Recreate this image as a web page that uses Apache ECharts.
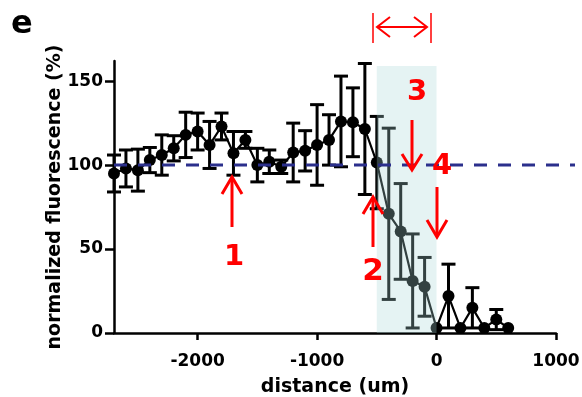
<!DOCTYPE html>
<html><head><meta charset="utf-8">
<script src="https://cdn.jsdelivr.net/npm/echarts@6/dist/echarts.min.js"></script>
<style>html,body{margin:0;padding:0;background:#fff}#c{width:582px;height:397px}</style>
</head><body><div id="c"></div>
<script>
// ---- data ----
const distances = [-2700,-2600,-2500,-2400,-2300,-2200,-2100,-2000,-1900,-1800,-1700,-1600,-1500,-1400,-1300,-1200,-1100,-1000,-900,-800,-700,-600,-500,-400,-300,-200,-100,0,100,200,300,400,500,600];
const means     = [95,98,97,103,106,110,118,120,112,123,107,115,100,102,99,107.5,108.5,112,115,126,125.5,121.5,101.5,71,60.5,31,27.5,3,22,3,15,3,8,3];
const errors    = [11,11,12.5,7.5,12,7.5,13.5,11,14,8,13,5,10,7,4,17.5,12,24,15,27,20.5,39,27.5,51,28.5,28,17.5,0,19,0,12,0,6,0];
const xTicks = [-2000,-1000,0,1000];
const yTicks = [0,50,100,150];
const xRange = [-2700, 1000];
const yRange = [0, 162];
const refValue = 100;
const refRange = [-2700, 1160];
const shadeRange = [-500, 0];
const shadeTop = 159;

const FONT = 'DejaVu Sans';
const lineData = distances.map((d,i)=>[d, means[i]]);
const errData = distances.map((d,i)=>[d, means[i]-errors[i], means[i]+errors[i]]);
const plain = v => String(v);

const chart = echarts.init(document.getElementById('c'), null, {renderer:'canvas'});
chart.setOption({
  animation:false,
  backgroundColor:'#fff',
  grid:[
    {left:114, right:26, top:61, bottom:64, containLabel:false, outerBoundsMode:'none'},
    {left:114, right:7, top:61, bottom:64, containLabel:false, outerBoundsMode:'none'}
  ],
  xAxis:[{
    type:'value', gridIndex:0, min:xRange[0], max:xRange[1],
    name:'distance (um)', nameLocation:'middle', nameGap:45, nameMoveOverlap:false,
    nameTextStyle:{fontFamily:FONT, fontWeight:'bold', fontSize:19, color:'#000'},
    axisLine:{show:true, onZero:false, lineStyle:{color:'#000', width:2.5}},
    axisTick:{show:true, length:7, lineStyle:{color:'#000', width:2.5}, customValues:xTicks},
    axisLabel:{customValues:xTicks, formatter:plain, margin:20, fontFamily:FONT, fontWeight:'bold', fontSize:17, color:'#000'},
    splitLine:{show:false}
  },{
    type:'value', gridIndex:1, min:refRange[0], max:refRange[1], show:false
  }],
  yAxis:[{
    type:'value', gridIndex:0, min:yRange[0], max:yRange[1],
    name:'normalized fluorescence (%)', nameLocation:'middle', nameGap:49, nameMoveOverlap:false,
    nameTextStyle:{fontFamily:FONT, fontWeight:'bold', fontSize:19, color:'#000'},
    axisLine:{show:true, onZero:false, lineStyle:{color:'#000', width:2.5}},
    axisTick:{show:true, length:9, lineStyle:{color:'#000', width:2.5}, customValues:yTicks},
    axisLabel:{customValues:yTicks, formatter:plain, margin:11, fontFamily:FONT, fontWeight:'bold', fontSize:17, color:'#000'},
    splitLine:{show:false}
  },{
    type:'value', gridIndex:1, min:yRange[0], max:yRange[1], show:false
  }],
  series:[
    {
      type:'custom', xAxisIndex:0, yAxisIndex:0, z:2, data:errData,
      renderItem:function(params, api){
        const x = api.value(0), lo = api.value(1), hi = api.value(2);
        if (hi - lo <= 0) return null;
        const pt = api.coord([x, hi]), pb = api.coord([x, lo]);
        const w = 7;
        const st = {stroke:'#000', lineWidth:3, fill:null};
        return {type:'group', children:[
          {type:'line', shape:{x1:pt[0], y1:pt[1], x2:pb[0], y2:pb[1]}, style:st},
          {type:'line', shape:{x1:pt[0]-w, y1:pt[1], x2:pt[0]+w, y2:pt[1]}, style:st},
          {type:'line', shape:{x1:pb[0]-w, y1:pb[1], x2:pb[0]+w, y2:pb[1]}, style:st}
        ]};
      }
    },
    {
      type:'line', xAxisIndex:0, yAxisIndex:0, z:3, data:lineData,
      symbol:'circle', symbolSize:12, showSymbol:true,
      itemStyle:{color:'#000'}, lineStyle:{color:'#000', width:2.2}
    },
    {
      type:'custom', xAxisIndex:0, yAxisIndex:0, z:10, data:[[shadeRange[0], shadeRange[1], shadeTop]],
      renderItem:function(params, api){
        const a = api.coord([api.value(0), api.value(2)]);
        const b = api.coord([api.value(1), 0]);
        return {type:'rect', shape:{x:a[0], y:a[1], width:b[0]-a[0], height:b[1]-a[1]},
          style:{fill:'rgba(170,215,215,0.3)'}};
      }
    },
    {
      type:'line', xAxisIndex:1, yAxisIndex:1, z:20, data:[[refRange[0], refValue],[refRange[1], refValue]],
      symbol:'none', lineStyle:{color:'#2b2f8c', width:3, type:[13,11]}
    }
  ],
  graphic:{elements:[
    {type:'text', z:100, style:{text:'e', x:11, y:25, fill:'#000', font:'bold 32px "DejaVu Sans"', align:'left', verticalAlign:'middle'}},
    // arrow 1
    {type:'line', z:100, shape:{x1:232, y1:227, x2:232, y2:178}, style:{stroke:'#f00', lineWidth:3}},
    {type:'polyline', z:100, shape:{points:[[222,194],[232,177],[242,194]]}, style:{stroke:'#f00', lineWidth:3, fill:null}},
    {type:'text', z:100, style:{text:'1', x:234, y:257, fill:'#f00', font:'bold 29px "DejaVu Sans"', align:'center', verticalAlign:'middle'}},
    // arrow 2
    {type:'line', z:100, shape:{x1:373, y1:247, x2:373, y2:198}, style:{stroke:'#f00', lineWidth:3}},
    {type:'polyline', z:100, shape:{points:[[363,214],[373,197],[383,214]]}, style:{stroke:'#f00', lineWidth:3, fill:null}},
    {type:'text', z:100, style:{text:'2', x:373, y:272, fill:'#f00', font:'bold 31px "DejaVu Sans"', align:'center', verticalAlign:'middle'}},
    // arrow 3
    {type:'line', z:100, shape:{x1:412, y1:120, x2:412, y2:169}, style:{stroke:'#f00', lineWidth:3}},
    {type:'polyline', z:100, shape:{points:[[402,154],[412,170],[422,154]]}, style:{stroke:'#f00', lineWidth:3, fill:null}},
    {type:'text', z:100, style:{text:'3', x:417, y:92, fill:'#f00', font:'bold 29px "DejaVu Sans"', align:'center', verticalAlign:'middle'}},
    // arrow 4
    {type:'line', z:100, shape:{x1:437, y1:187, x2:437, y2:236}, style:{stroke:'#f00', lineWidth:3}},
    {type:'polyline', z:100, shape:{points:[[427,220],[437,237],[447,220]]}, style:{stroke:'#f00', lineWidth:3, fill:null}},
    {type:'text', z:100, style:{text:'4', x:442, y:166, fill:'#f00', font:'bold 29px "DejaVu Sans"', align:'center', verticalAlign:'middle'}},
    // double arrow
    {type:'line', z:100, shape:{x1:373, y1:13, x2:373, y2:43}, style:{stroke:'#f00', lineWidth:1.5}},
    {type:'line', z:100, shape:{x1:431, y1:13, x2:431, y2:43}, style:{stroke:'#f00', lineWidth:1.5}},
    {type:'line', z:100, shape:{x1:377, y1:27, x2:427, y2:27}, style:{stroke:'#f00', lineWidth:2}},
    {type:'polyline', z:100, shape:{points:[[390,17],[377,27],[390,37]]}, style:{stroke:'#f00', lineWidth:2, fill:null}},
    {type:'polyline', z:100, shape:{points:[[414,17],[427,27],[414,37]]}, style:{stroke:'#f00', lineWidth:2, fill:null}}
  ]}
});
</script>
</body></html>
